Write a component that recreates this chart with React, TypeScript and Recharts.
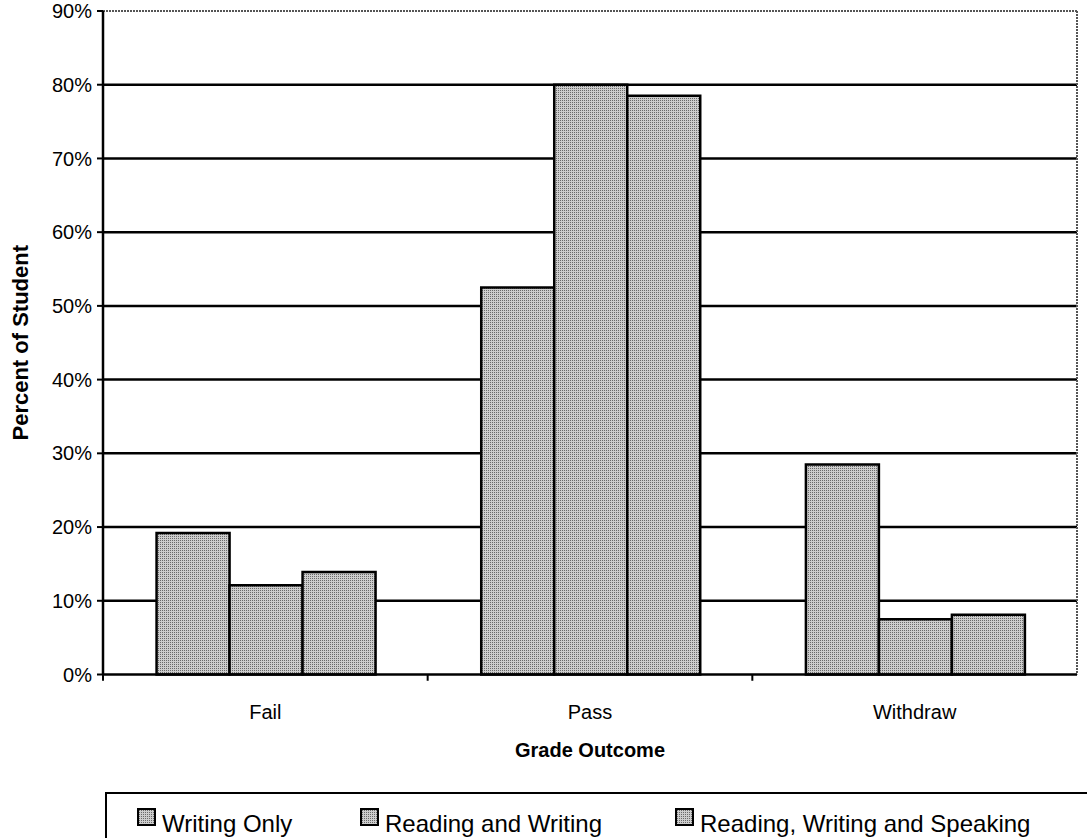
import { BarChart, Bar, XAxis, YAxis, CartesianGrid, ReferenceLine, Legend } from 'recharts'

const categories = ['Fail', 'Pass', 'Withdraw']
const writingOnly = [19.2, 52.5, 28.5]
const readingWriting = [12.1, 80, 7.5]
const readingWritingSpeaking = [13.9, 78.5, 8.1]
const yTicks = [0, 10, 20, 30, 40, 50, 60, 70, 80, 90]
const gridValues = [10, 20, 30, 40, 50, 60, 70, 80]

const seriesNames = ['Writing Only', 'Reading and Writing', 'Reading, Writing and Speaking']

const data = categories.map((name, i) => ({
  name,
  wo: writingOnly[i],
  rw: readingWriting[i],
  rws: readingWritingSpeaking[i],
}))

const FONT = 'Arial, "Liberation Sans", sans-serif'
const FILL = 'url(#stipple)'

// legend item offsets from the left edge of the legend box
const legendLeft = [30, 253, 568]

function LegendBox() {
  return (
    <div style={{ position: 'relative', height: 46, borderTop: '2.5px solid #000', borderLeft: '2.5px solid #000', boxSizing: 'border-box', fontFamily: FONT, fontSize: 24, color: '#000' }}>
      {seriesNames.map((n, i) => (
        <div key={n} style={{ position: 'absolute', left: legendLeft[i], top: 14, display: 'flex', alignItems: 'flex-start', whiteSpace: 'nowrap' }}>
          <svg width={19} height={18}>
            <rect x={1} y={1} width={17} height={16} fill={FILL} stroke="#000" strokeWidth={2} />
          </svg>
          <span style={{ marginLeft: 6, marginTop: 2, lineHeight: '27px' }}>{n}</span>
        </div>
      ))}
    </div>
  )
}

export default function App() {
  return (
    <div style={{ position: 'absolute', left: 0, top: 0, width: 1087, height: 838, overflow: 'hidden', background: '#fff' }}>
      <svg width={0} height={0} style={{ position: 'absolute' }}>
        <defs>
          <pattern id="stipple" width={2} height={2} patternUnits="userSpaceOnUse">
            <rect width={2} height={2} fill="#cdcdcd" />
            <rect width={1} height={1} fill="#6a6a6a" />
          </pattern>
        </defs>
      </svg>
      <BarChart width={1087} height={838} data={data} margin={{ top: 11, right: 10, bottom: 0, left: 0 }} barCategoryGap="16.5%" barGap={0}>
        <CartesianGrid horizontal vertical={false} horizontalValues={gridValues} stroke="#000" strokeWidth={2.5} />
        {/* dotted frame on the right side of the plot */}
        <CartesianGrid
          horizontal={false}
          vertical
          verticalCoordinatesGenerator={({ offset }: any) => [offset.left + offset.width]}
          stroke="#555"
          strokeWidth={2}
          strokeDasharray="2 1"
        />
        <XAxis
          dataKey="name"
          height={117.5}
          tickSize={0}
          tickMargin={30}
          tickLine={false}
          axisLine={{ stroke: '#000', strokeWidth: 2.5 }}
          tick={{ fill: '#000', fontSize: 20, fontFamily: FONT }}
          label={{ value: 'Grade Outcome', position: 'insideTop', offset: 68, fill: '#000', fontSize: 20, fontWeight: 'bold', fontFamily: FONT }}
        />
        <YAxis
          width={103}
          domain={[0, 90]}
          ticks={yTicks}
          interval={0}
          tickFormatter={(v) => `${v}%`}
          tickSize={6}
          tickMargin={5}
          axisLine={{ stroke: '#000', strokeWidth: 2.5 }}
          tickLine={{ stroke: '#000', strokeWidth: 2 }}
          tick={{ fill: '#000', fontSize: 20, fontFamily: FONT }}
          label={{ value: 'Percent of Student', angle: -90, position: 'insideLeft', offset: 20, fill: '#000', fontSize: 22, fontWeight: 'bold', fontFamily: FONT, style: { textAnchor: 'middle' } }}
        />
        <ReferenceLine y={90} stroke="#555" strokeWidth={2} strokeDasharray="2 1" />
        {/* short tick marks under the axis at each category boundary */}
        {categories.map((c) => (
          <ReferenceLine
            key={c}
            segment={[{ x: c, y: 0 }, { x: c, y: -0.85 }]}
            position="start"
            ifOverflow="visible"
            stroke="#000"
            strokeWidth={2}
          />
        ))}
        <Bar dataKey="wo" name={seriesNames[0]} fill={FILL} stroke="#000" strokeWidth={2.5} isAnimationActive={false} />
        <Bar dataKey="rw" name={seriesNames[1]} fill={FILL} stroke="#000" strokeWidth={2.5} isAnimationActive={false} />
        <Bar dataKey="rws" name={seriesNames[2]} fill={FILL} stroke="#000" strokeWidth={2.5} isAnimationActive={false} />
        <Legend verticalAlign="bottom" content={() => <LegendBox />} wrapperStyle={{ left: 105, bottom: 0, width: 990, height: 46 }} />
      </BarChart>
    </div>
  )
}
